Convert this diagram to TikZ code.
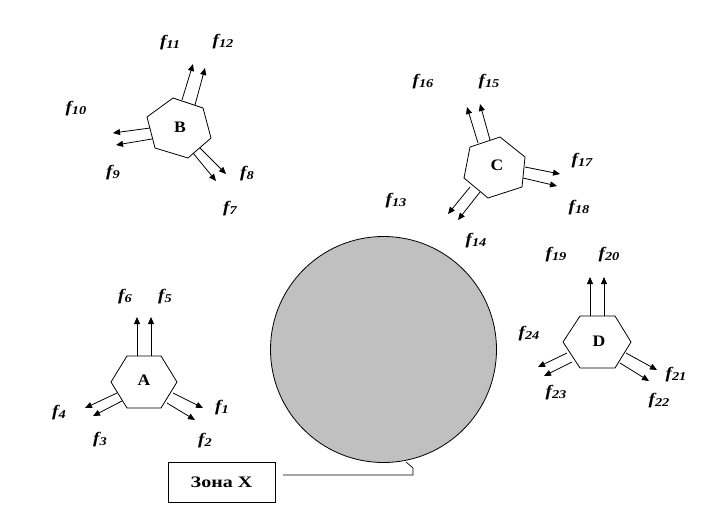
\documentclass[tikz,border=0pt]{standalone}
\usepackage{fontspec}
\setmainfont{Liberation Serif}
\usetikzlibrary{arrows.meta}
\newcommand\flab[1]{\scalebox{1.2}[1]{{\fontsize{16}{16}\selectfont\bfseries\itshape f}\raisebox{-2pt}{\fontsize{12}{12}\selectfont\bfseries\itshape #1}}}
\newcommand\hlab[1]{\scalebox{1.1}[1]{\fontsize{16}{16}\selectfont\bfseries #1}}
\begin{document}
\begin{tikzpicture}[x=1pt,y=-1pt,
  hex/.style={draw=black,line width=0.8pt,fill=white},
  arr/.style={draw=black,line width=0.8pt,-{Triangle[length=7pt,width=6pt]}},
  lbl/.style={inner sep=0pt},
  fl/.style={inner sep=0pt},
  zone/.style={draw=black,line width=0.8pt,minimum width=107pt,minimum height=40pt}]
\useasboundingbox (0,0) rectangle (727,522);
% circle
\node[circle,draw=black,line width=0.8pt,fill={rgb,255:red,192;green,192;blue,192},minimum size=226pt,inner sep=0pt] (zoneX) at (383.5,349.5) {};
% Zone X box and callout
\node[zone] (box) at (221.5,482) {\scalebox{1.25}[1]{\fontsize{16}{16}\selectfont\bfseries Зона X}};
\draw[line width=0.7pt] (283,475) coordinate (c1) -- (413,475) -- (413,468) -- (406,462) coordinate (c2);

% Hexagon A
\draw[hex] (127,356) coordinate (A1) -- (161,356) -- (177,382) -- (161,408) -- (127,408) -- (111,382) -- cycle;
\node[lbl] (A) at (144,380) {\hlab{A}};
\draw[arr] (137,356) coordinate (a6s) -- (137,317) coordinate (a6e);
\draw[arr] (151,356) coordinate (a5s) -- (151,317) coordinate (a5e);
\draw[arr] (117,393) coordinate (a4s) -- (85,408) coordinate (a4e);
\draw[arr] (122,401) coordinate (a3s) -- (93,416) coordinate (a3e);
\draw[arr] (173,393) coordinate (a1s) -- (203,408) coordinate (a1e);
\draw[arr] (167,403) coordinate (a2s) -- (195,420) coordinate (a2e);
\node[fl] (f6) at (125,297) {\flab{6}};
\node[fl] (f5) at (165,297) {\flab{5}};
\node[fl] (f4) at (59,413) {\flab{4}};
\node[fl] (f3) at (100,440) {\flab{3}};
\node[fl] (f1) at (222,408) {\flab{1}};
\node[fl] (f2) at (205,441) {\flab{2}};

% Hexagon B
\draw[hex] (173,98) -- (203,108) -- (211,138) -- (188,158) -- (155,148) -- (147,117) -- cycle;
\node[lbl] (B) at (180,127) {\hlab{B}};
\draw[arr] (182,100) coordinate (b11s) -- (193,64) coordinate (b11e);
\draw[arr] (195,105) coordinate (b12s) -- (205,68) coordinate (b12e);
\draw[arr] (150,128) coordinate (b10s) -- (113,133) coordinate (b10e);
\draw[arr] (152,139) coordinate (b9s) -- (116,145) coordinate (b9e);
\draw[arr] (200,148) coordinate (b8s) -- (226,174) coordinate (b8e);
\draw[arr] (193,153) coordinate (b7s) -- (216,181) coordinate (b7e);
\node[fl] (f11) at (170,43) {\flab{11}};
\node[fl] (f12) at (223,42) {\flab{12}};
\node[fl] (f10) at (76,109) {\flab{10}};
\node[fl] (f9) at (113,173) {\flab{9}};
\node[fl] (f8) at (247,174) {\flab{8}};
\node[fl] (f7) at (230,209) {\flab{7}};

% Hexagon C
\draw[hex] (470,147) -- (500,137) -- (525,157) -- (522,187) -- (488,198) -- (464,178) -- cycle;
\node[lbl] (C) at (497,165) {\hlab{C}};
\draw[arr] (478,143) coordinate (c16s) -- (467,107) coordinate (c16e);
\draw[arr] (490,140) coordinate (c15s) -- (480,104) coordinate (c15e);
\draw[arr] (525,167) coordinate (c17s) -- (560,174) coordinate (c17e);
\draw[arr] (523,178) coordinate (c18s) -- (557,186) coordinate (c18e);
\draw[arr] (470,187) coordinate (c13s) -- (448,214) coordinate (c13e);
\draw[arr] (480,192) coordinate (c14s) -- (458,220) coordinate (c14e);
\node[fl] (f16) at (423,82) {\flab{16}};
\node[fl] (f15) at (489,82) {\flab{15}};
\node[fl] (f17) at (582,161) {\flab{17}};
\node[fl] (f18) at (579,208) {\flab{18}};
\node[fl] (f13) at (396,201) {\flab{13}};
\node[fl] (f14) at (476,241) {\flab{14}};

% Hexagon D
\draw[hex] (580,316) -- (615,316) -- (631,342) -- (615,368) -- (580,368) -- (563,342) -- cycle;
\node[lbl] (D) at (599,341) {\hlab{D}};
\draw[arr] (590,316) coordinate (d19s) -- (590,277) coordinate (d19e);
\draw[arr] (604,316) coordinate (d20s) -- (604,277) coordinate (d20e);
\draw[arr] (567,353) coordinate (d24s) -- (538,367) coordinate (d24e);
\draw[arr] (572,362) coordinate (d23s) -- (544,376) coordinate (d23e);
\draw[arr] (626,353) coordinate (d21s) -- (657,370) coordinate (d21e);
\draw[arr] (620,363) coordinate (d22s) -- (649,381) coordinate (d22e);
\node[fl] (f19) at (556,255) {\flab{19}};
\node[fl] (f20) at (609,255) {\flab{20}};
\node[fl] (f24) at (529,334) {\flab{24}};
\node[fl] (f21) at (676,375) {\flab{21}};
\node[fl] (f22) at (659,401) {\flab{22}};
\node[fl] (f23) at (556,393) {\flab{23}};
\end{tikzpicture}
\end{document}
